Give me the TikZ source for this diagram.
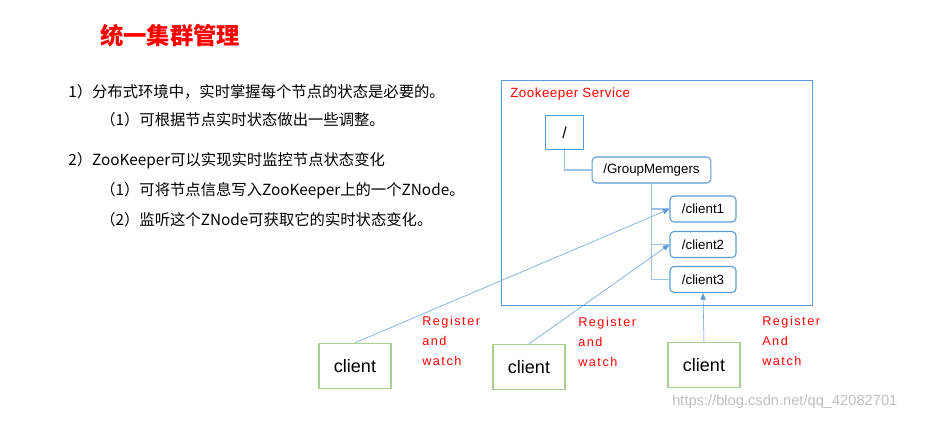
\documentclass[tikz,border=0pt]{standalone}
\usepackage{fontspec}
\setmainfont{Liberation Sans}
\newfontfamily\cjk{Noto Sans CJK SC}
\usetikzlibrary{arrows.meta}
\definecolor{bl}{RGB}{91,155,213}
\definecolor{gr}{RGB}{169,209,142}
\begin{document}
\begin{tikzpicture}[x=0.75pt,y=-0.75pt,
  txt/.style={anchor=west,inner sep=0,font=\cjk\fontsize{11.5}{13}\selectfont},
  nd/.style={draw=bl,thick,rounded corners=3pt,font=\fontsize{10}{12}\selectfont,inner sep=0},
  cl/.style={draw=gr,thick,minimum width=54pt,minimum height=34pt,font=\fontsize{13.5}{16}\selectfont,inner sep=0},
  rl/.style={anchor=north west,align=left,text=red,font=\addfontfeatures{LetterSpace=12}\fontsize{9.5}{15}\selectfont,inner sep=0},
  ar/.style={draw=bl,-{Triangle[length=5pt,width=4pt]}}]
\useasboundingbox (0,0) rectangle (926,421);
\node[anchor=west,inner sep=0,text=red,font=\cjk\bfseries\fontsize{17.5}{20}\selectfont] (title) at (100,36) {统一集群管理};
\node[txt] (l1) at (68,92) {1）分布式环境中，实时掌握每个节点的状态是必要的。};
\node[txt] (l2) at (100,120) {（1）可根据节点实时状态做出一些调整。};
\node[txt] (l3) at (68,161) {2）ZooKeeper可以实现实时监控节点状态变化};
\node[txt] (l4) at (100,191) {（1）可将节点信息写入ZooKeeper上的一个ZNode。};
\node[txt] (l5) at (100,220) {（2）监听这个ZNode可获取它的实时状态变化。};
\node[draw=bl,minimum width=233pt,minimum height=169pt,inner sep=0] (svc) at (656.5,192.5) {};
\node[anchor=west,inner sep=0,text=red,font=\addfontfeatures{LetterSpace=4}\fontsize{10}{12}\selectfont] (svct) at (510,94) {Zookeeper Service};
\node[draw=bl,thick,minimum width=29pt,minimum height=25pt,inner sep=0,font=\fontsize{12}{14}\selectfont] (root) at (564.5,132.5) {/};
\node[nd,minimum width=89pt,minimum height=19.5pt] (gm) at (651.5,170) {/GroupMemgers};
\node[nd,minimum width=49.5pt,minimum height=19.5pt] (c1) at (703,209) {/client1};
\node[nd,minimum width=49.5pt,minimum height=19.5pt] (c2) at (703,244.5) {/client2};
\node[nd,minimum width=49.5pt,minimum height=19.5pt] (c3) at (703,279.5) {/client3};
\draw[bl!60,thick] (root.south) |- (gm.west);
\draw[bl!60,thick] (gm.south) |- (c1.west);
\draw[bl!60,thick] (gm.south) |- (c2.west);
\draw[bl!60,thick] (gm.south) |- (c3.west);
\node[cl] (k1) at (355,366) {client};
\node[cl] (k2) at (529,367) {client};
\node[cl] (k3) at (704,365) {client};
\draw[ar] (k1.north) -- (c1.west);
\draw[ar] (k2.north) -- (c2.west);
\draw[ar] (k3.north) -- (c3.south);
\node[rl] (r1) at (422,316) {Register\\and\\watch};
\node[rl] (r2) at (578,317) {Register\\and\\watch};
\node[rl] (r3) at (762,316) {Register\\And\\watch};
\node[anchor=west,inner sep=0,text=black!25,font=\fontsize{11}{13}\selectfont] (wm) at (672,402) {https://blog.csdn.net/qq\_42082701};
\end{tikzpicture}
\end{document}
